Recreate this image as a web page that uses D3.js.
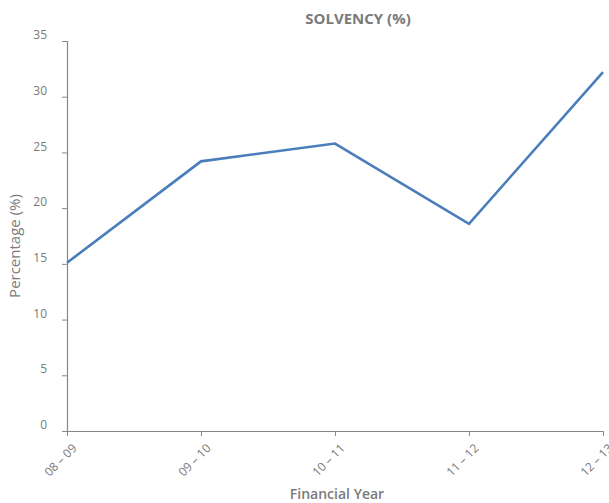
<!DOCTYPE html>
<html>
<head>
<meta charset="utf-8">
<script src="https://cdn.jsdelivr.net/npm/d3@7/dist/d3.min.js"></script>
<style>
  html, body { margin: 0; padding: 0; background: #fff; overflow: hidden; }
  svg { display: block; font-family: "Open Sans", "DejaVu Sans", sans-serif; }
</style>
</head>
<body>
<svg id="chart" width="609" height="503"></svg>
<script>
// Solvency ratio by financial year
const years = ["08 \u2013 09", "09 \u2013 10", "10 \u2013 11", "11 \u2013 12", "12 \u2013 13"];
const solvency = [15.1, 24.2, 25.8, 18.6, 32.2];
const yTicks = [0, 5, 10, 15, 20, 25, 30, 35];

const svg = d3.select("#chart");
const plot = { left: 67, right: 603, top: 41, bottom: 431 };
const grey = "#7a7a7a";

const x = d3.scalePoint().domain(years).range([plot.left, plot.right]);
const y = d3.scaleLinear().domain([0, 35]).range([plot.bottom, plot.top]);

// Y axis
const yAxis = svg.append("g")
  .attr("transform", `translate(${plot.left},0)`)
  .call(d3.axisLeft(y).tickValues(yTicks).tickSize(5).tickPadding(15));
yAxis.select(".domain").attr("stroke", "#888").attr("stroke-width", 1.2);
yAxis.selectAll(".tick line").attr("stroke", "#888");
yAxis.selectAll(".tick text").attr("fill", grey).attr("font-size", 12)
  .attr("font-family", "Open Sans, sans-serif").attr("dy", "-0.2em");

// X axis
const xAxis = svg.append("g")
  .attr("transform", `translate(0,${plot.bottom})`)
  .call(d3.axisBottom(x).tickSize(5).tickSizeOuter(0));
xAxis.select(".domain").attr("stroke", "#888").attr("stroke-width", 1.2);
xAxis.selectAll(".tick line").attr("stroke", "#888");
xAxis.selectAll(".tick text")
  .attr("fill", grey).attr("font-size", 12)
  .attr("font-family", "Open Sans, sans-serif")
  .attr("text-anchor", "end")
  .attr("x", 0).attr("y", 0).attr("dy", 0)
  .attr("transform", "translate(10,18) rotate(-45)");

// Line
svg.append("path")
  .datum(solvency)
  .attr("fill", "none")
  .attr("stroke", "#4a7ebb")
  .attr("stroke-width", 2.6)
  .attr("stroke-linejoin", "miter")
  .attr("d", d3.line().x((d, i) => x(years[i])).y(d => y(d)));

// Titles
svg.append("text")
  .attr("x", 358).attr("y", 24)
  .attr("text-anchor", "middle")
  .attr("fill", grey).attr("font-size", 15).attr("font-weight", "bold")
  .text("SOLVENCY (%)");

svg.append("text")
  .attr("transform", "translate(20,246) rotate(-90)")
  .attr("text-anchor", "middle")
  .attr("fill", grey).attr("font-size", 15)
  .text("Percentage (%)");

svg.append("text")
  .attr("x", 337).attr("y", 499)
  .attr("text-anchor", "middle")
  .attr("fill", grey).attr("font-size", 14).attr("font-weight", 600)
  .text("Financial Year");
</script>
</body>
</html>
